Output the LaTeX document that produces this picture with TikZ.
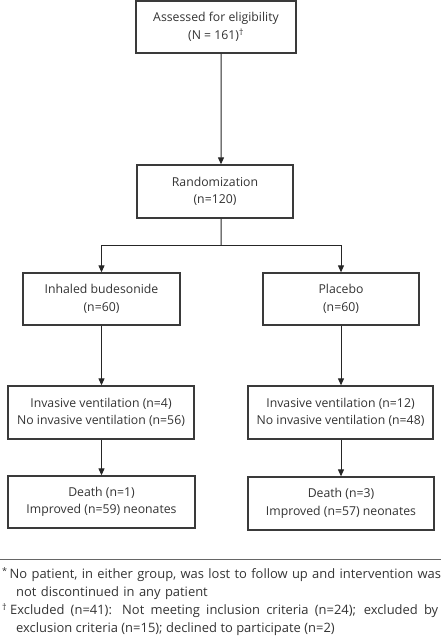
\documentclass[tikz,border=0pt]{standalone}
\usepackage{fontspec}
\setmainfont{Open Sans}
\usetikzlibrary{arrows.meta,calc}
\definecolor{boxline}{HTML}{3A3A3A}
\definecolor{txt}{HTML}{333333}
\begin{document}
\begin{tikzpicture}[x=1bp,y=-1bp,
  box/.style={draw=boxline,line width=1.3bp,rectangle,inner sep=0pt,align=center,
    font=\fontsize{12.3}{17.5}\selectfont,text=txt},
  conn/.style={line width=1bp,draw=black!85,-{Triangle[width=6bp,length=7bp]}},
  plain/.style={line width=1bp,draw=black!85},
  foot/.style={anchor=north west,inner sep=0pt,text=txt,font=\fontsize{13}{18}\selectfont}]
\useasboundingbox (0,0) rectangle (441,642);
\node[box,minimum width=160bp,minimum height=52bp] (b1) at (216,27) {Assessed for eligibility\\(N = 161)\textsuperscript{\dag}};
\node[box,minimum width=156bp,minimum height=53bp] (b2) at (215,191.5) {Randomization\\(n=120)};
\node[box,minimum width=157bp,minimum height=52bp] (b3l) at (101.5,299) {Inhaled budesonide\\(n=60)};
\node[box,minimum width=156bp,minimum height=52bp] (b3r) at (341,299) {Placebo\\(n=60)};
\node[box,minimum width=186bp,minimum height=53bp] (b4l) at (101,412.5) {Invasive ventilation (n=4)\\No invasive ventilation (n=56)};
\node[box,minimum width=185bp,minimum height=53bp] (b4r) at (340.5,412.5) {Invasive ventilation (n=12)\\No invasive ventilation (n=48)};
\node[box,minimum width=187bp,minimum height=52bp] (b5l) at (101.5,502) {Death (n=1)\\Improved (n=59) neonates};
\node[box,minimum width=186bp,minimum height=53bp] (b5r) at (341,503.5) {Death (n=3)\\Improved (n=57) neonates};
\coordinate (split) at (221,245);
\draw[conn] ([xshift=5bp]b1.south) -- ([xshift=6bp]b2.north);
\draw[plain] ([xshift=6bp]b2.south) -- (split);
\draw[conn] (split) -| (b3l.north);
\draw[conn] (split) -| (b3r.north);
\draw[conn] (b3l.south) -- (b4l.north -| b3l.south);
\draw[conn] (b3r.south) -- (b4r.north -| b3r.south);
\draw[conn] (b4l.south -| b3l.south) -- (b5l.north -| b3l.south);
\draw[conn] (b4r.south -| b3r.south) -- (b5r.north -| b3r.south);
\coordinate (rl) at (0,559.5);
\coordinate (rr) at (441,559.5);
\draw[line width=1bp,draw=black!60] (rl) -- (rr);
\node[foot,text width=460bp,align=left] (fn1) at (2,567)
  {\hyphenpenalty=10000\hangindent=14bp\hangafter=1\textsuperscript{*}\hspace{2bp}No patient, in either group, was lost to follow up and intervention was\newline not discontinued in any patient\par};
\node[foot,text width=436bp,align=justify] (fn2) at (2,603)
  {\hyphenpenalty=10000\hangindent=14bp\hangafter=1\textsuperscript{\dag}\hspace{3bp}Excluded (n=41): Not meeting inclusion criteria (n=24); excluded by\linebreak exclusion criteria (n=15); declined to participate (n=2)\par};
\end{tikzpicture}
\end{document}
